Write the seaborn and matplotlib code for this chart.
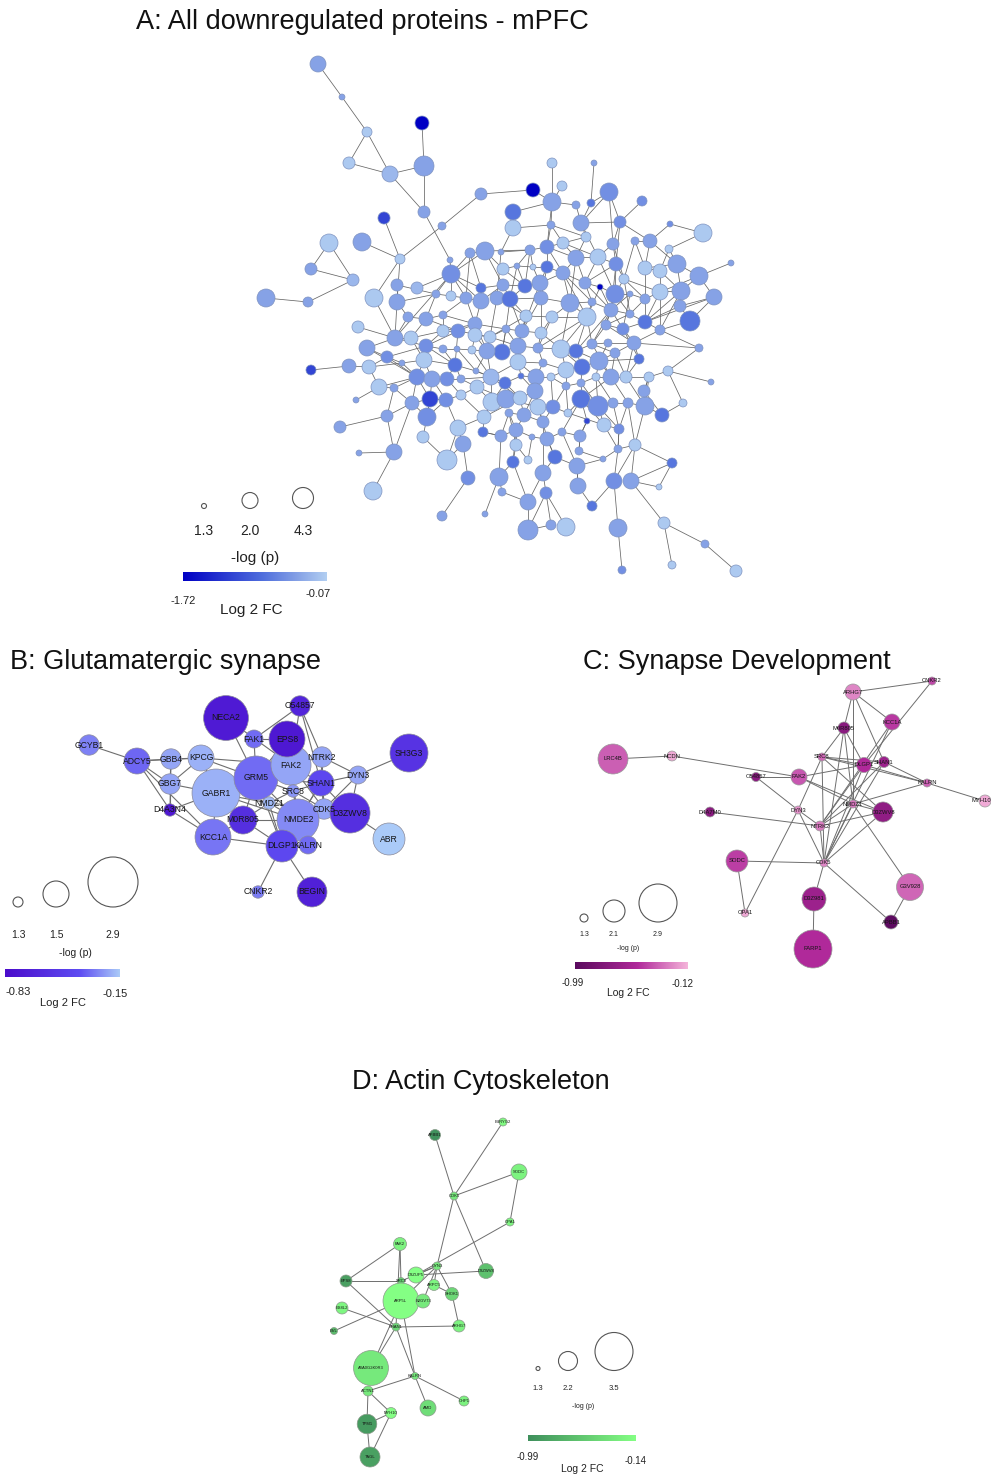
import numpy as np
import pandas as pd
import matplotlib
matplotlib.use("Agg")
import matplotlib.pyplot as plt
import seaborn as sns
from matplotlib.collections import LineCollection
from matplotlib.colors import LinearSegmentedColormap

# ===================== DATA =====================
# ---- Panel A: all downregulated proteins (layout x, layout y, -log p, log2 FC)
a_x = [318, 342, 367, 349, 390, 422, 424, 424, 384, 400,
       442, 481, 362, 329, 311, 353, 266, 308, 374, 397,
       417, 397, 451, 485, 470, 501, 436, 451, 466, 481,
       481, 497, 503, 503, 513, 513, 552, 594, 533, 562,
       552, 609, 642, 576, 591, 551, 581, 620, 670, 703,
       586, 563, 613, 635, 650, 669, 608, 530, 547, 576,
       598, 616, 645, 677, 660, 699, 731, 517, 533, 547,
       525, 540, 563, 585, 600, 615, 624, 630, 645, 660,
       681, 680, 714, 690, 570, 592, 611, 630, 645, 660,
       587, 552, 526, 510, 541, 522, 541, 506, 518, 538,
       561, 576, 592, 606, 623, 634, 699, 502, 615, 358,
       395, 408, 426, 443, 411, 443, 458, 475, 475, 490,
       367, 387, 426, 443, 457, 472, 487, 349, 369, 402,
       424, 455, 476, 417, 432, 447, 461, 491, 505, 311,
       379, 394, 356, 412, 430, 446, 461, 477, 492, 506,
       427, 387, 340, 423, 458, 484, 483, 501, 463, 394,
       359, 447, 468, 499, 373, 442, 485, 502, 518, 543,
       566, 582, 599, 639, 521, 536, 551, 566, 581, 596,
       611, 626, 649, 668, 711, 520, 535, 538, 553, 568,
       581, 598, 613, 628, 645, 644, 662, 683, 524, 509,
       543, 587, 604, 619, 516, 532, 547, 562, 580, 516,
       579, 618, 635, 513, 528, 555, 577, 603, 672, 543,
       614, 631, 659, 578, 546, 528, 592, 551, 528, 566,
       618, 664, 705, 672, 622, 736, 450]
a_y = [64, 97, 132, 163, 174, 123, 166, 212, 218, 259,
       226, 194, 242, 243, 269, 280, 298, 302, 298, 285,
       288, 302, 274, 251, 253, 252, 294, 296, 298, 288,
       301, 298, 269, 285, 212, 228, 163, 163, 190, 186,
       202, 192, 201, 205, 203, 225, 223, 222, 224, 233,
       237, 243, 244, 241, 241, 249, 343, 250, 247, 258,
       257, 264, 268, 264, 271, 276, 263, 266, 267, 267,
       286, 283, 273, 283, 287, 294, 279, 294, 299, 292,
       291, 306, 297, 321, 303, 302, 310, 314, 322, 330,
       317, 317, 316, 299, 298, 331, 333, 329, 346, 348,
       349, 351, 344, 325, 329, 343, 348, 352, 353, 327,
       338, 317, 319, 315, 338, 331, 331, 324, 335, 337,
       348, 357, 346, 349, 349, 350, 351, 366, 367, 363,
       360, 365, 371, 377, 379, 379, 379, 377, 383, 370,
       387, 388, 400, 403, 399, 400, 395, 387, 402, 399,
       417, 416, 427, 437, 428, 417, 432, 436, 444, 452,
       453, 460, 478, 477, 491, 516, 514, 492, 362, 363,
       370, 367, 361, 359, 376, 377, 377, 386, 383, 377,
       377, 377, 377, 371, 382, 398, 391, 407, 407, 413,
       399, 406, 403, 403, 406, 391, 415, 403, 415, 413,
       422, 421, 425, 429, 430, 437, 439, 432, 436, 445,
       451, 449, 445, 462, 460, 457, 466, 459, 463, 473,
       481, 481, 487, 486, 493, 502, 506, 525, 530, 527,
       528, 523, 544, 565, 570, 571, 260]
a_p = [2.0, 1.36, 1.62, 1.75, 2.0, 1.87, 3.84, 1.75, 1.75, 1.62,
       1.49, 1.75, 2.92, 2.92, 1.75, 1.75, 2.92, 1.62, 2.92, 1.75,
       1.75, 2.0, 2.92, 2.92, 1.62, 1.36, 1.49, 1.62, 1.75, 1.62,
       2.0, 1.87, 1.75, 1.75, 2.0, 2.0, 1.62, 1.36, 1.87, 1.62,
       2.92, 2.92, 1.62, 1.49, 1.49, 1.49, 2.0, 1.75, 1.36, 2.92,
       1.62, 1.75, 1.75, 1.49, 1.87, 1.49, 1.49, 1.62, 1.87, 2.0,
       2.0, 1.87, 1.87, 2.92, 1.87, 2.92, 1.36, 1.36, 1.36, 1.75,
       1.87, 2.0, 1.87, 1.75, 1.36, 2.92, 1.62, 1.36, 1.62, 2.0,
       2.92, 1.75, 2.0, 3.84, 2.92, 1.49, 1.87, 1.49, 1.87, 1.62,
       2.92, 1.75, 1.75, 2.0, 1.87, 1.87, 1.75, 1.49, 2.0, 1.62,
       2.92, 1.87, 1.62, 1.62, 1.75, 1.87, 1.49, 2.0, 1.62, 1.75,
       2.0, 1.62, 1.87, 1.49, 1.87, 1.75, 1.87, 1.87, 1.87, 1.75,
       2.0, 1.75, 1.87, 1.49, 1.36, 1.49, 2.0, 1.87, 1.87, 1.36,
       2.0, 1.87, 1.36, 2.0, 2.0, 1.87, 1.49, 2.0, 1.75, 1.62,
       2.0, 1.49, 1.36, 1.87, 2.0, 1.87, 1.62, 1.87, 2.92, 2.92,
       2.92, 1.75, 1.75, 1.75, 2.0, 1.87, 1.62, 1.75, 2.0, 2.0,
       1.36, 3.84, 1.87, 2.92, 2.92, 1.62, 1.36, 1.49, 2.0, 1.49,
       2.0, 2.0, 2.92, 1.62, 1.36, 2.0, 1.49, 1.49, 1.49, 1.49,
       2.0, 1.75, 1.62, 1.62, 1.36, 1.87, 2.0, 2.0, 1.87, 1.49,
       2.92, 3.84, 1.62, 1.62, 2.92, 1.75, 1.87, 1.49, 1.87, 1.49,
       1.75, 1.36, 1.87, 1.62, 1.87, 1.36, 1.87, 1.49, 1.75, 1.75,
       1.49, 1.49, 1.75, 1.75, 1.49, 1.87, 2.0, 1.36, 1.62, 2.0,
       2.0, 2.0, 1.36, 2.0, 1.75, 2.0, 1.62, 1.62, 3.84, 2.92,
       2.92, 1.75, 1.49, 1.49, 1.49, 1.75, 1.36]
a_fc = [-0.4, -0.4, -0.12, -0.12, -0.25, -1.72, -0.4, -0.4, -1.15, -0.12,
        -0.4, -0.4, -0.4, -0.12, -0.4, -0.25, -0.4, -0.4, -0.12, -0.4,
        -0.25, -0.4, -0.55, -0.4, -0.4, -0.4, -0.4, -0.12, -0.4, -0.75,
        -0.4, -0.4, -0.12, -0.4, -0.75, -0.12, -0.12, -0.4, -1.72, -0.12,
        -0.4, -0.55, -0.55, -0.4, -0.75, -0.4, -0.4, -0.55, -0.55, -0.12,
        -0.12, -0.12, -0.4, -0.4, -0.4, -0.12, -0.4, -0.4, -0.55, -0.4,
        -0.12, -0.55, -0.12, -0.4, -0.12, -0.4, -0.4, -0.4, -0.12, -0.75,
        -0.75, -0.4, -0.4, -0.4, -1.72, -0.55, -0.12, -0.4, -0.4, -0.12,
        -0.4, -0.4, -0.4, -0.75, -0.4, -0.4, -0.4, -0.4, -0.75, -0.4,
        -0.12, -0.12, -0.12, -0.75, -0.4, -0.4, -0.12, -0.4, -0.4, -0.4,
        -0.12, -0.75, -0.4, -0.4, -0.55, -0.4, -0.4, -0.75, -0.4, -0.12,
        -0.4, -0.4, -0.4, -0.4, -0.12, -0.12, -0.55, -0.4, -0.12, -0.12,
        -0.4, -0.55, -0.55, -0.4, -0.4, -0.12, -0.4, -0.4, -0.12, -0.4,
        -0.12, -0.75, -0.4, -0.55, -0.4, -0.55, -0.4, -0.25, -0.75, -1.15,
        -0.12, -0.4, -0.4, -0.4, -1.15, -0.55, -0.12, -0.12, -0.12, -0.4,
        -0.55, -0.4, -0.4, -0.12, -0.12, -0.12, -0.75, -0.4, -0.4, -0.4,
        -0.4, -0.12, -0.55, -0.4, -0.12, -0.4, -0.4, -0.4, -0.12, -0.4,
        -0.12, -0.75, -0.4, -0.75, -0.75, -0.4, -0.12, -0.4, -0.4, -0.12,
        -0.4, -0.12, -0.12, -0.12, -0.4, -0.12, -0.4, -0.12, -0.55, -0.12,
        -0.75, -0.55, -0.4, -0.4, -0.4, -0.4, -0.75, -0.12, -0.4, -0.4,
        -0.4, -1.15, -0.12, -0.55, -0.4, -0.4, -0.4, -0.4, -0.4, -0.12,
        -0.4, -0.4, -0.12, -0.75, -0.12, -0.75, -0.4, -0.4, -0.75, -0.4,
        -0.55, -0.4, -0.12, -0.4, -0.55, -0.4, -0.75, -0.4, -0.4, -0.12,
        -0.4, -0.12, -0.4, -0.12, -0.55, -0.12, -0.4]
a_edges = [
    (0, 1), (1, 2), (2, 3), (2, 4), (3, 4), (4, 6), (5, 6), (6, 7), (4, 7), (7, 236),
    (236, 22), (11, 10), (10, 9), (11, 38), (8, 9), (12, 9), (9, 18), (9, 21), (13, 14),
    (13, 15), (14, 15), (15, 17), (16, 17), (18, 110), (19, 21), (20, 22), (22, 23),
    (22, 24), (22, 26), (22, 27), (22, 28), (22, 29), (23, 24), (23, 32), (24, 29),
    (29, 33), (30, 33), (31, 93), (32, 67), (33, 70), (31, 25), (30, 28), (26, 27),
    (27, 28), (29, 30), (21, 26), (21, 110), (19, 26), (25, 57), (34, 35), (35, 45),
    (35, 25), (34, 40),
    (37, 44), (38, 40), (40, 43), (36, 40), (39, 40), (40, 45), (40, 58), (41, 46),
    (41, 44), (41, 47), (41, 52), (42, 47), (43, 46), (44, 46), (46, 50), (46, 47),
    (45, 51), (47, 52), (47, 54), (48, 49), (48, 54), (49, 55), (50, 59), (51, 58),
    (51, 60), (52, 60), (52, 61), (53, 54), (53, 62), (54, 62), (54, 63), (55, 63),
    (55, 64), (57, 58), (58, 59), (58, 69), (59, 60), (59, 72), (60, 61), (61, 75),
    (61, 76), (62, 63), (62, 64), (63, 65), (64, 79), (65, 66), (65, 80), (65, 82),
    (63, 80), (64, 80), (65, 79), (67, 68), (67, 70), (68, 69), (69, 71), (70, 71),
    (71, 72), (72, 73), (73, 74), (74, 75), (75, 76), (75, 77), (76, 79), (77, 78),
    (78, 79), (79, 80), (80, 81), (81, 82), (81, 83), (80, 88), (79, 88), (84, 85),
    (84, 90), (84, 72), (85, 86), (86, 87), (86, 75), (87, 88), (88, 89), (89, 105),
    (88, 104), (90, 91), (90, 101), (91, 92), (92, 93), (93, 94), (94, 71), (94, 84),
    (92, 95), (95, 96), (96, 91), (97, 95), (97, 98), (98, 99), (99, 100), (100, 101),
    (101, 102), (102, 103), (103, 104), (104, 105), (105, 108), (108, 102), (106, 89),
    (106, 105), (107, 98), (107, 97), (93, 97), (71, 95), (72, 90), (74, 86), (73, 85),
    (69, 94), (70, 93), (59, 84), (60, 73), (61, 86), (58, 72), (57, 70), (76, 87),
    (78, 88), (62, 78), (77, 104), (100, 90), (101, 86), (102, 86), (103, 87), (96, 99),
    (95, 98), (56, 102), (56, 105), (56, 172), (82, 83), (83, 89),
    (109, 110), (110, 111), (110, 114), (111, 112), (112, 113), (112, 114), (113, 115),
    (114, 115), (115, 116), (116, 117), (117, 118), (118, 119), (119, 97), (116, 122),
    (120, 110), (120, 121), (121, 122), (122, 123), (123, 124), (124, 125), (125, 126),
    (126, 107), (126, 119), (127, 128), (128, 121), (128, 129), (129, 130), (130, 131),
    (131, 132), (132, 137), (133, 134), (134, 135), (135, 136), (136, 137), (137, 138),
    (138, 174), (139, 127), (140, 141), (141, 133), (140, 128), (142, 140), (143, 133),
    (143, 144), (144, 145), (145, 146), (146, 147), (147, 148), (148, 149), (149, 185),
    (150, 143), (150, 144), (151, 141), (151, 152), (153, 150), (154, 145), (154, 155),
    (155, 148), (156, 155), (157, 156), (157, 163), (158, 154), (158, 162), (159, 151),
    (159, 143), (160, 159), (161, 153), (161, 158), (161, 154), (164, 159), (165, 162),
    (166, 163), (167, 163), (110, 122), (114, 130), (130, 133), (122, 131), (131, 116),
    (126, 137), (133, 144), (134, 145), (135, 131), (121, 133), (118, 125), (117, 126),
    (113, 28), (112, 26), (111, 21), (120, 133), (137, 168), (119, 92),
    (168, 98), (168, 169), (169, 170), (170, 171), (171, 172), (172, 173), (173, 105),
    (172, 108), (170, 100), (171, 101), (174, 175), (175, 176), (176, 177), (177, 178),
    (178, 179), (179, 180), (180, 181), (181, 182), (182, 183), (183, 184), (183, 106),
    (182, 195), (181, 173), (180, 172), (185, 137), (185, 186), (186, 187), (187, 188),
    (188, 189), (189, 190), (190, 191), (191, 192), (192, 193), (193, 194), (194, 195),
    (194, 196), (196, 197), (195, 182), (198, 199), (198, 185), (199, 204), (200, 187),
    (200, 198), (201, 190), (202, 191), (203, 202), (203, 193), (204, 205), (205, 206),
    (206, 207), (207, 208), (208, 201), (209, 204), (210, 208), (211, 203), (212, 211),
    (212, 194), (212, 218), (212, 220), (212, 221), (213, 209), (214, 209), (215, 206),
    (215, 216), (216, 217), (217, 211), (218, 221), (218, 222), (221, 222), (220, 226),
    (220, 230), (221, 231), (219, 224), (219, 200), (224, 228), (224, 227), (224, 229),
    (227, 228), (223, 216), (223, 226), (225, 213), (228, 225), (230, 234), (231, 233),
    (231, 232), (232, 235), (202, 190), (180, 190), (175, 186), (177, 188), (178, 190),
    (179, 191), (148, 137), (138, 185), (157, 204), (163, 213), (167, 225), (183, 197),
    # dense core
    (22, 110), (22, 30), (23, 57), (23, 33), (24, 28), (28, 117), (30, 117), (31, 119),
    (31, 92), (33, 93), (32, 70), (67, 93), (68, 71), (69, 72), (57, 68), (57, 67),
    (45, 58), (45, 50), (50, 51), (51, 59), (46, 60), (47, 61), (52, 76), (53, 76),
    (61, 73), (60, 75), (59, 73), (72, 85), (73, 86), (74, 90), (75, 87), (75, 103),
    (76, 78), (77, 86), (78, 87), (79, 89), (80, 89), (81, 88), (82, 88), (84, 91),
    (84, 100), (85, 90), (86, 103), (86, 104), (90, 102), (90, 99), (91, 99), (92, 98),
    (93, 95), (94, 95), (94, 96), (96, 100), (97, 107), (98, 168), (99, 169), (100, 171),
    (101, 172), (102, 180), (103, 105), (104, 173), (105, 181), (108, 180), (108, 181),
    (112, 116), (113, 117), (115, 117), (115, 122), (116, 119), (117, 97), (118, 126),
    (119, 98), (121, 129), (122, 130), (123, 131), (124, 132), (125, 137), (126, 132),
    (129, 133), (130, 134), (131, 136), (132, 138), (133, 140), (134, 144), (135, 146),
    (136, 147), (137, 147), (138, 148), (141, 143), (143, 151), (144, 150), (145, 150),
    (146, 155), (147, 149), (149, 187), (155, 185), (156, 157), (157, 199), (168, 174),
    (168, 175), (169, 175), (170, 176), (170, 177), (171, 178), (172, 179), (174, 186),
    (175, 187), (176, 188), (177, 189), (178, 191), (179, 192), (180, 193), (181, 194),
    (182, 194), (186, 198), (187, 200), (188, 200), (189, 202), (190, 207), (191, 203),
    (192, 203), (193, 212), (195, 196), (198, 204), (199, 209), (200, 206), (201, 208),
    (202, 211), (203, 211), (204, 213), (205, 214), (206, 215), (207, 216), (208, 210),
    (210, 217), (215, 219), (216, 223), (219, 225), (211, 220)]

# ---- Panel B: Glutamatergic synapse
b_names = ["GCYB1", "ADCY5", "GBB4", "KPCG", "GBG7", "D4A3N4", "GABR1", "GRM5", "FAK2",
           "NECA2", "EPS8", "FAK1", "O54857", "NTRK2", "SH3G3", "DYN3", "SHAN1", "SRC8",
           "NMDZ1", "CDK5", "D3ZWV8", "NMDE2", "M0R805", "KCC1A", "DLGP1", "KALRN",
           "ABR", "CNKR2", "BEGIN"]
b_x = [89, 137, 171, 201, 170, 170, 216, 256, 291, 226, 287, 254, 300, 322, 409, 358,
       321, 293, 269, 324, 350, 298, 243, 213, 282, 308, 389, 258, 312]
b_y = [745, 761, 759, 758, 784, 810, 793, 778, 765, 718, 739, 739, 706, 757, 753, 775,
       783, 791, 803, 809, 813, 820, 820, 837, 846, 845, 839, 892, 892]
b_p = [1.43, 1.5, 1.43, 1.5, 1.43, 1.33, 2.78, 2.55, 2.32, 2.6, 2.08, 1.4, 1.43, 1.43,
       2.2, 1.4, 1.5, 1.33, 1.33, 1.43, 2.32, 2.43, 1.62, 2.08, 1.85, 1.4, 1.85, 1.33, 1.73]
b_fc = [-0.29, -0.34, -0.22, -0.2, -0.22, -0.76, -0.2, -0.33, -0.22, -0.73, -0.75, -0.33,
        -0.66, -0.22, -0.56, -0.22, -0.42, -0.25, -0.18, -0.22, -0.59, -0.27, -0.59,
        -0.31, -0.42, -0.33, -0.15, -0.3, -0.69]
b_edges = [("GCYB1", "ADCY5"), ("ADCY5", "GBB4"), ("ADCY5", "KPCG"), ("ADCY5", "GBG7"),
           ("ADCY5", "D4A3N4"), ("ADCY5", "KCC1A"), ("GBB4", "KPCG"), ("GBB4", "GBG7"),
           ("GBB4", "D4A3N4"), ("GBG7", "D4A3N4"), ("GBG7", "KPCG"), ("GBG7", "GABR1"),
           ("KPCG", "GABR1"), ("KPCG", "GRM5"), ("KPCG", "FAK2"), ("D4A3N4", "KCC1A"),
           ("D4A3N4", "GABR1"), ("GABR1", "GRM5"), ("GABR1", "NMDZ1"), ("GABR1", "NMDE2"),
           ("NECA2", "GRM5"), ("NECA2", "FAK2"), ("FAK1", "EPS8"), ("FAK1", "O54857"),
           ("FAK1", "GRM5"), ("EPS8", "FAK2"), ("O54857", "NTRK2"), ("O54857", "SHAN1"),
           ("O54857", "FAK2"), ("NTRK2", "FAK2"), ("NTRK2", "DYN3"), ("NTRK2", "SHAN1"),
           ("NTRK2", "CDK5"), ("SH3G3", "DYN3"), ("DYN3", "SHAN1"), ("DYN3", "CDK5"),
           ("DYN3", "D3ZWV8"), ("SHAN1", "FAK2"), ("SHAN1", "GRM5"), ("SHAN1", "NMDE2"),
           ("SHAN1", "SRC8"), ("SHAN1", "CDK5"), ("SHAN1", "D3ZWV8"), ("SHAN1", "DLGP1"),
           ("SRC8", "GRM5"), ("SRC8", "NMDE2"), ("SRC8", "NMDZ1"), ("SRC8", "CDK5"),
           ("SRC8", "FAK2"), ("NMDZ1", "NMDE2"), ("NMDZ1", "GRM5"), ("NMDZ1", "M0R805"),
           ("NMDZ1", "DLGP1"), ("NMDZ1", "CDK5"), ("CDK5", "NMDE2"), ("CDK5", "D3ZWV8"),
           ("CDK5", "FAK2"), ("D3ZWV8", "ABR"), ("D3ZWV8", "NMDE2"), ("NMDE2", "M0R805"),
           ("NMDE2", "DLGP1"), ("NMDE2", "KALRN"), ("NMDE2", "GRM5"), ("NMDE2", "FAK2"),
           ("M0R805", "GRM5"), ("M0R805", "KCC1A"), ("M0R805", "DLGP1"), ("KCC1A", "GABR1"),
           ("DLGP1", "CNKR2"), ("DLGP1", "BEGIN"), ("DLGP1", "KALRN"), ("DLGP1", "GRM5"),
           ("GRM5", "FAK2"), ("GRM5", "EPS8"), ("KCC1A", "DLGP1")]

# ---- Panel C: Synapse Development
c_names = ["ARHG7", "CNKR2", "KCC1A", "M0R805", "LRC4B", "NCDN", "SRC8", "DLGP1", "SHAN1",
           "KALRN", "MYH10", "O54857", "FAK2", "D4A7M0", "DYN3", "NMDZ1", "D3ZWV8", "NTRK2",
           "SODC", "CDK5", "D3Z981", "G3V928", "OPA1", "APBB1", "FARP1"]
c_x = [853, 932, 892, 844, 613, 672, 822, 864, 884, 927, 985, 756, 799, 710, 798, 853,
       883, 820, 737, 824, 814, 910, 745, 891, 813]
c_y = [692, 681, 722, 728, 759, 756, 757, 765, 762, 783, 801, 777, 777, 812, 810, 804,
       812, 826, 861, 863, 899, 887, 913, 922, 949]
c_p = [1.76, 1.3, 1.76, 1.53, 2.5, 1.41, 1.3, 1.7, 1.47, 1.3, 1.53, 1.36, 1.76, 1.41, 1.3,
       1.3, 1.99, 1.41, 2.1, 1.3, 2.2, 2.35, 1.3, 1.64, 2.9]
c_fc = [-0.25, -0.42, -0.47, -0.73, -0.36, -0.16, -0.34, -0.51, -0.62, -0.36, -0.15, -0.73,
        -0.38, -0.73, -0.22, -0.29, -0.69, -0.28, -0.45, -0.25, -0.62, -0.34, -0.16, -0.97,
        -0.51]
c_edges = [("LRC4B", "NCDN"), ("NCDN", "FAK2"), ("ARHG7", "CNKR2"), ("ARHG7", "KCC1A"),
           ("ARHG7", "M0R805"), ("ARHG7", "SHAN1"), ("ARHG7", "NMDZ1"), ("CNKR2", "DLGP1"),
           ("KCC1A", "NTRK2"), ("KCC1A", "CDK5"), ("M0R805", "SRC8"), ("M0R805", "DLGP1"),
           ("M0R805", "NMDZ1"), ("M0R805", "CDK5"), ("SRC8", "DLGP1"), ("SRC8", "SHAN1"),
           ("SRC8", "KALRN"), ("SRC8", "DYN3"), ("SRC8", "D3ZWV8"), ("SRC8", "CDK5"),
           ("DLGP1", "KALRN"), ("SHAN1", "KALRN"), ("KALRN", "MYH10"), ("DLGP1", "FAK2"),
           ("O54857", "FAK2"), ("O54857", "DYN3"), ("FAK2", "NMDZ1"), ("FAK2", "D3ZWV8"),
           ("D4A7M0", "NTRK2"), ("DYN3", "NTRK2"), ("DYN3", "CDK5"), ("DYN3", "OPA1"),
           ("NMDZ1", "NTRK2"), ("NMDZ1", "CDK5"), ("NMDZ1", "G3V928"), ("NMDZ1", "D3ZWV8"),
           ("NTRK2", "D3ZWV8"), ("NTRK2", "CDK5"), ("NTRK2", "SHAN1"), ("D3ZWV8", "CDK5"),
           ("SHAN1", "CDK5"), ("DLGP1", "CDK5"), ("SODC", "CDK5"), ("SODC", "OPA1"),
           ("CDK5", "D3Z981"), ("CDK5", "APBB1"), ("D3Z981", "FARP1"), ("G3V928", "APBB1"),
           ("NMDZ1", "KALRN"), ("DLGP1", "NTRK2")]

# ---- Panel D: Actin Cytoskeleton
d_names = ["APBB1", "B3RYG2", "SODC", "CDK5", "OPA1", "FAK2", "DYN3", "D3ZUP5", "D3ZWV8",
           "EPS8", "SRC8", "ARPC5", "SHOK1", "ARP5L", "B2GV73", "ES8L2", "EVL", "SHAN1",
           "ARHG7", "A0A0G2K0R3", "KALRN", "ACTN1", "CHP1", "AMD", "MYH10", "TPM1", "TAGL"]
d_x = [435, 503, 519, 454, 510, 400, 437, 416, 486, 346, 401, 434, 452, 401, 423, 342,
       334, 396, 459, 371, 415, 368, 464, 428, 391, 367, 370]
d_y = [1135, 1122, 1172, 1196, 1222, 1244, 1266, 1275, 1271, 1281, 1281, 1285, 1294, 1301,
       1301, 1308, 1331, 1327, 1326, 1368, 1376, 1391, 1401, 1408, 1413, 1424, 1457]
d_p = [1.72, 1.54, 2.02, 1.54, 1.54, 1.84, 1.54, 2.02, 1.96, 1.78, 1.48, 1.72, 1.84, 3.36,
       1.9, 1.78, 1.48, 1.54, 1.78, 3.29, 1.48, 1.66, 1.66, 2.02, 1.72, 2.24, 2.27]
d_fc = [-0.97, -0.18, -0.23, -0.31, -0.21, -0.23, -0.31, -0.14, -0.61, -0.86, -0.48, -0.21,
        -0.44, -0.14, -0.31, -0.21, -0.65, -0.44, -0.23, -0.31, -0.31, -0.31, -0.24, -0.4,
        -0.14, -0.9, -0.86]
d_edges = [("APBB1", "CDK5"), ("B3RYG2", "CDK5"), ("SODC", "CDK5"), ("SODC", "OPA1"),
           ("CDK5", "DYN3"), ("CDK5", "D3ZWV8"), ("OPA1", "D3ZUP5"), ("FAK2", "EPS8"),
           ("FAK2", "SRC8"), ("FAK2", "SHAN1"), ("EPS8", "SRC8"), ("EPS8", "SHAN1"),
           ("DYN3", "SRC8"), ("DYN3", "D3ZUP5"), ("DYN3", "ARPC5"), ("DYN3", "SHOK1"),
           ("DYN3", "B2GV73"), ("DYN3", "ARP5L"), ("D3ZUP5", "D3ZWV8"), ("SHOK1", "ARHG7"),
           ("SHOK1", "ARPC5"), ("ES8L2", "SHAN1"), ("EVL", "ARP5L"), ("SHAN1", "ARHG7"),
           ("SHAN1", "A0A0G2K0R3"), ("ARP5L", "A0A0G2K0R3"), ("ARP5L", "KALRN"),
           ("SHAN1", "KALRN"), ("KALRN", "ACTN1"), ("KALRN", "AMD"), ("KALRN", "CHP1"),
           ("ACTN1", "TPM1"), ("ACTN1", "MYH10"), ("TPM1", "TAGL"), ("TPM1", "MYH10"),
           ("TAGL", "MYH10")]

# ---- legends
a_leg_p = [1.3, 2.0, 4.3]
b_leg_p = [1.3, 1.5, 2.9]
c_leg_p = [1.3, 2.1, 2.9]
d_leg_p = [1.3, 2.2, 3.5]
a_fc_range = [-1.72, -0.07]
b_fc_range = [-0.83, -0.15]
c_fc_range = [-0.99, -0.12]
d_fc_range = [-0.99, -0.14]
titles = ["A: All downregulated proteins - mPFC", "B: Glutamatergic synapse",
          "C: Synapse Development", "D: Actin Cytoskeleton"]

# ===================== STYLE =====================
sns.set_theme(style="white")
plt.rcParams["font.family"] = ["Liberation Sans", "DejaVu Sans"]

W, H, DPI = 991, 1477, 100
fig = plt.figure(figsize=(W / DPI, H / DPI), dpi=DPI)
ax = fig.add_axes([0, 0, 1, 1])
ax.axis("off")

cmap_a = LinearSegmentedColormap.from_list(
    "a", [(0, "#0000C4"), (0.55, "#4F6EDD"), (0.8, "#86A2E6"), (1, "#B2CFF2")])
cmap_b = LinearSegmentedColormap.from_list(
    "b", [(0, "#4B0CCB"), (0.65, "#5E4CF2"), (1, "#AACAF8")])
cmap_c = LinearSegmentedColormap.from_list(
    "c", [(0, "#5A0A5E"), (0.55, "#B0289A"), (1, "#F5B4DA")])
cmap_d = LinearSegmentedColormap.from_list(
    "d", [(0, "#3F8F5C"), (1, "#84FF84")])

# radius (px) anchors for -log(p)
anch_a = ([1.3, 2.0, 4.3], [2.5, 8.0, 10.5])
anch_b = ([1.3, 1.5, 2.9], [5.0, 13.0, 25.0])
anch_c = ([1.3, 2.1, 2.9], [4.0, 11.0, 19.0])
anch_d = ([1.3, 2.2, 3.5], [2.0, 9.5, 19.0])


def radius(p, anch):
    return np.interp(p, anch[0], anch[1])


def area(p, anch):
    return (2 * radius(np.asarray(p, float), anch) * 72 / DPI) ** 2


def draw_network(x, y, p, fc, edges, cmap, fcr, anch, names=None, fs=6,
                 elw=0.7, ecol="#7a7a7a", ncol="#7a7a7a", nlw=0.5):
    df = pd.DataFrame({"x": x, "y": y, "p": p, "fc": fc})
    if names is not None:
        idx = {n: i for i, n in enumerate(names)}
        edges = [(idx[a], idx[b]) for a, b in edges]
    segs = [[(x[i], y[i]), (x[j], y[j])] for i, j in edges]
    ax.add_collection(LineCollection(segs, colors=ecol, linewidths=elw, zorder=1))
    sns.scatterplot(data=df, x="x", y="y", hue="fc", palette=cmap, hue_norm=tuple(fcr),
                    s=area(df["p"], anch), edgecolor=ncol, linewidth=nlw,
                    legend=False, ax=ax, zorder=2)
    if names is not None:
        for n, xi, yi in zip(names, x, y):
            half = len(n) * fs * 0.36
            tx = min(xi, W - 2 - half)  # keep label inside the canvas
            ax.text(tx, yi, n, ha="center", va="center", fontsize=fs, color="#151515",
                    zorder=3)


def size_legend(vals, xs, base, anch, fs, ty, title_xy, title_fs):
    r = radius(np.asarray(vals, float), anch)
    ax.scatter(xs, base - r, s=area(vals, anch), facecolors="none",
               edgecolors="#555555", linewidths=0.8, zorder=2)
    for v, xv in zip(vals, xs):
        ax.text(xv, ty, f"{v:.1f}", ha="center", va="center", fontsize=fs, color="#222222")
    ax.text(title_xy[0], title_xy[1], "-log (p)", ha="center", va="center",
            fontsize=title_fs, color="#222222")


def color_legend(cmap, fcr, box, lo_xy, hi_xy, lab_xy, fs, lab_fs):
    grad = np.linspace(0, 1, 256)[None, :]
    ax.imshow(grad, cmap=cmap, extent=(box[0], box[1], box[3], box[2]),
              aspect="auto", zorder=2)
    ax.text(lo_xy[0], lo_xy[1], f"{fcr[0]:.2f}", ha="center", va="center",
            fontsize=fs, color="#222222")
    ax.text(hi_xy[0], hi_xy[1], f"{fcr[1]:.2f}", ha="center", va="center",
            fontsize=fs, color="#222222")
    ax.text(lab_xy[0], lab_xy[1], "Log 2 FC", ha="center", va="center",
            fontsize=lab_fs, color="#222222")


# ---- Panel A
draw_network(a_x, a_y, a_p, a_fc, a_edges, cmap_a, a_fc_range, anch_a,
             elw=0.55, ecol="#666666", ncol="#7f93c0", nlw=0.5)
size_legend(a_leg_p, [204, 250, 303], 508.5, anch_a, 10, 531, (255, 558), 11)
color_legend(cmap_a, a_fc_range, (183, 327, 572, 581), (183, 601), (318, 594),
             (251, 610), 8, 11)

# ---- Panel B
draw_network(b_x, b_y, b_p, b_fc, b_edges, cmap_b, b_fc_range, anch_b, names=b_names,
             fs=6.2, elw=0.8, ecol="#6e6e6e", ncol="#8a8a9a", nlw=0.5)
size_legend(b_leg_p, [18, 56, 113], 907, anch_b, 7.5, 935, (75, 953), 7.5)
color_legend(cmap_b, b_fc_range, (5, 120, 969, 977), (18, 992), (115, 994),
             (63, 1003), 8, 8)

# ---- Panel C
draw_network(c_x, c_y, c_p, c_fc, c_edges, cmap_c, c_fc_range, anch_c, names=c_names,
             fs=4.2, elw=0.7, ecol="#6e6e6e", ncol="#999999", nlw=0.5)
size_legend(c_leg_p, [584, 614, 658], 922, anch_c, 5, 934, (628, 948), 5)
color_legend(cmap_c, c_fc_range, (575, 688, 962, 969), (573, 983), (683, 984),
             (628, 993), 7, 7.5)

# ---- Panel D
draw_network(d_x, d_y, d_p, d_fc, d_edges, cmap_d, d_fc_range, anch_d, names=d_names,
             fs=3.0, elw=0.7, ecol="#6e6e6e", ncol="#8a9a8a", nlw=0.5)
size_legend(d_leg_p, [538, 568, 614], 1370.5, anch_d, 5.5, 1389, (583, 1406), 5)
color_legend(cmap_d, d_fc_range, (528, 636, 1435, 1441), (528, 1457), (636, 1461),
             (582, 1469), 7, 7.5)

# ---- titles
ax.text(362, 22, titles[0], ha="center", va="center", fontsize=19.5, color="#111111")
ax.text(10, 662, titles[1], ha="left", va="center", fontsize=19.5, color="#111111")
ax.text(583, 662, titles[2], ha="left", va="center", fontsize=19.5, color="#111111")
ax.text(352, 1082, titles[3], ha="left", va="center", fontsize=19.5, color="#111111")

ax.set_xlim(0, W)
ax.set_ylim(H, 0)
fig.savefig("out.png", dpi=DPI)
